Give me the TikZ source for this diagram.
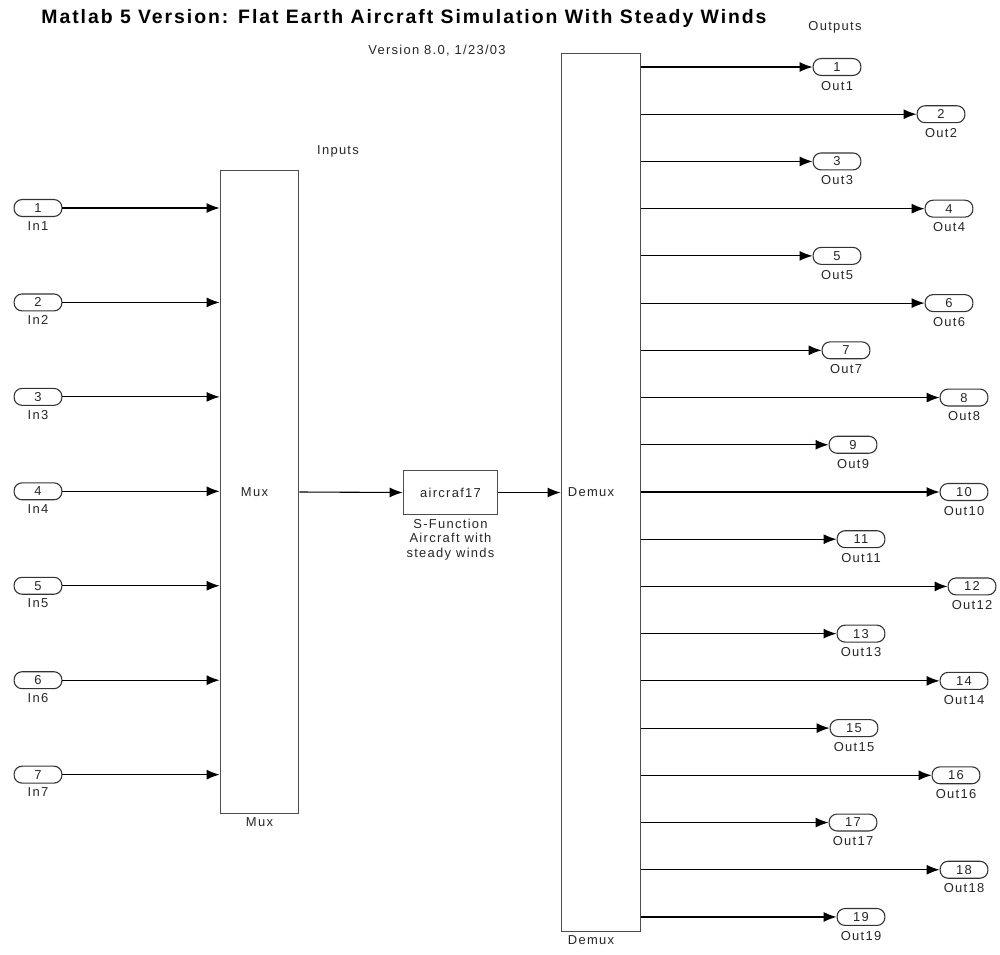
\documentclass[tikz,border=0pt]{standalone}
\usepackage{fontspec}
\setmainfont{Liberation Sans}
\newfontfamily\simfont[LetterSpace=10]{Liberation Sans}
\newfontfamily\headfont[LetterSpace=10]{Liberation Sans}
\usetikzlibrary{arrows.meta}

\tikzset{
  blk/.style={draw=black!70, line width=1.1pt, fill=white},
  port/.style={draw=black!80, line width=1.1pt, rounded corners=8pt,
    minimum width=48, minimum height=17, inner sep=0pt, text=black!85,
    font=\simfont\fontsize{13}{15}\selectfont},
  plabel/.style={text=black!85, font=\simfont\fontsize{13}{15}\selectfont,
    inner sep=1pt},
  sig/.style={line width=1.1pt, -{Latex[length=13pt,width=10pt]}},
}

\begin{document}
\begin{tikzpicture}[x=1bp,y=-1bp]
\path (0,0) rectangle (1000,955);
% titles
\node[font=\headfont\fontsize{19.5}{22}\bfseries] (title) at (404,18)
  {Matlab 5 Version: Flat Earth Aircraft Simulation With Steady Winds};
\node[plabel] (version) at (437,51) {Version 8.0, 1/23/03};
\node[plabel] (inlbl) at (338,151) {Inputs};
\node[plabel] (outlbl) at (835,27) {Outputs};
% blocks
\node[blk, minimum width=79, minimum height=646] (mux) at (259.5,492) {};
\node[plabel] (muxtxt) at ([xshift=-5]mux.center) {Mux};
\node[plabel, below=2pt] (muxname) at (mux.south) {Mux};
\node[blk, minimum width=95, minimum height=45, plabel] (sfun) at (450.5,492.5) {aircraf17};
\node[plabel, below=2pt, align=center] (sfunname) at (sfun.south)
  {S-Function\\Aircraft with\\steady winds};
\node[blk, minimum width=80, minimum height=881] (dmx) at (601,492.5) {};
\node[plabel] (dmxtxt) at ([xshift=-10]dmx.center) {Demux};
\node[plabel, below=2pt] (dmxname) at ([xshift=-10]dmx.south) {Demux};
% inputs
\foreach \i in {1,...,7} {
  \node[port, label={[plabel,label distance=3pt]below:In\i}] (in\i) at (38,{208+(\i-1)*94.44}) {\i};
  \draw[sig] (in\i.east) -- (in\i.east -| mux.west);
}
% main path
\draw[sig] (mux.east) -- (sfun.west);
\draw[sig] (sfun.east) -- (dmx.west);
% outputs
\foreach \i/\xl in {1/813,2/917,3/813,4/925,5/813,6/925,7/822,8/940,9/829,10/940,
  11/837,12/948,13/837,14/940,15/830,16/932,17/829,18/940,19/837} {
  \node[port, label={[plabel,label distance=4pt]below:Out\i}] (out\i) at ({\xl+24},{67+(\i-1)*47.22}) {\i};
  \draw[sig] (dmx.east |- out\i.west) -- (out\i.west);
}
\end{tikzpicture}
\end{document}
